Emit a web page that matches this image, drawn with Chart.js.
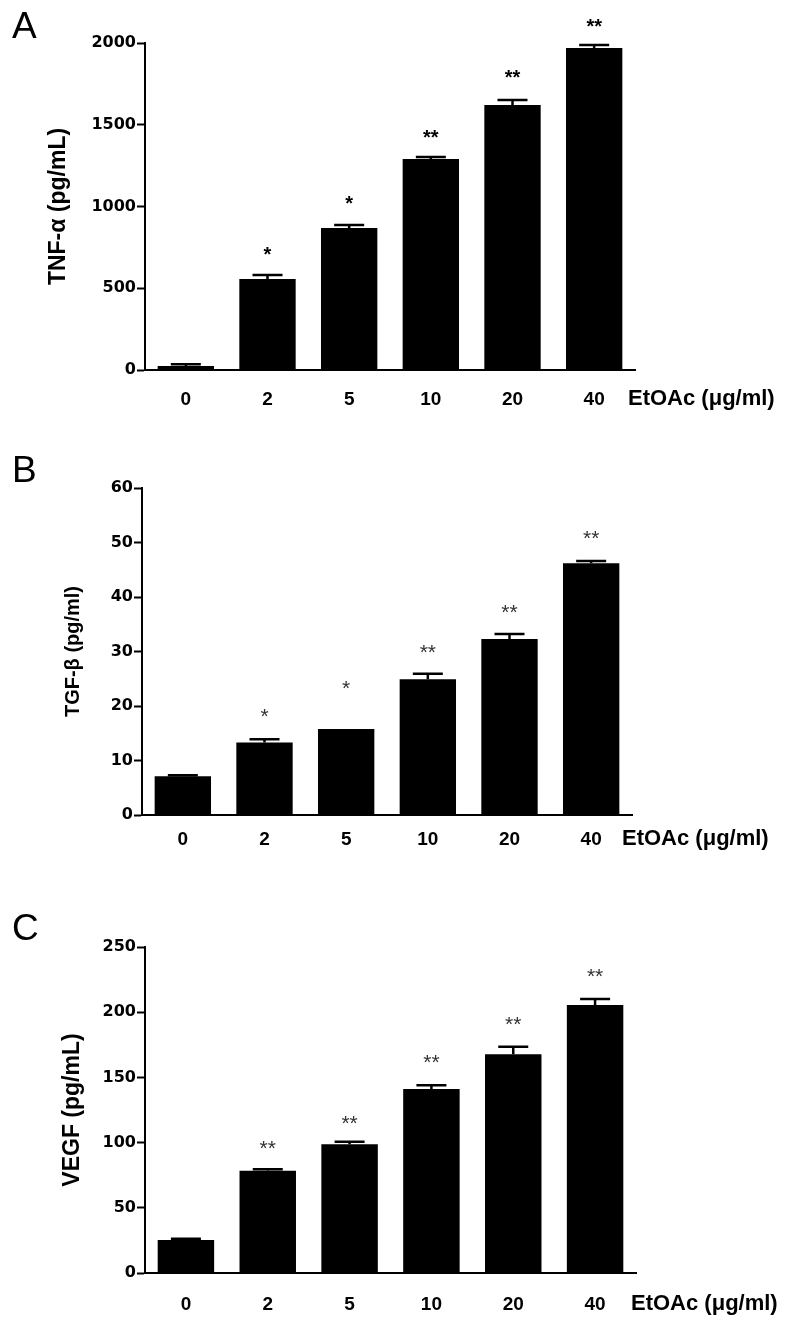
<!DOCTYPE html>
<html>
<head>
<meta charset="utf-8">
<script src="https://cdn.jsdelivr.net/npm/chart.js@4.4.1/dist/chart.umd.min.js"></script>
<style>
  body { margin: 0; background: #fff; }
  #wrap { position: relative; width: 790px; height: 1328px; }
  canvas { position: absolute; left: 0; }
</style>
</head>
<body>
<div id="wrap">
  <canvas id="panelA" width="790" height="440" style="top:0"></canvas>
  <canvas id="panelB" width="790" height="448" style="top:440px"></canvas>
  <canvas id="panelC" width="790" height="440" style="top:888px"></canvas>
</div>
<script>
const doses = ['0', '2', '5', '10', '20', '40']
const xTitle = 'EtOAc (μg/ml)'

// A: TNF-α
const tnfMean = [25, 556, 869, 1290, 1621, 1969]
const tnfErr = [10, 25, 18, 13, 30, 19]
const tnfStars = ['', '*', '*', '**', '**', '**']
const tnfStarAt = [null, 734, 1046, 1450, 1817, 2128]

// B: TGF-β
const tgfMean = [7.1, 13.3, 15.8, 24.9, 32.3, 46.2]
const tgfErr = [0.2, 0.6, 0, 1.0, 0.9, 0.4]
const tgfStars = ['', '*', '*', '**', '**', '**']
const tgfStarAt = [null, 19.1, 24.2, 30.8, 38.2, 51.7]

// C: VEGF
const vegfMean = [25.3, 78.5, 98.7, 141.1, 167.7, 205.5]
const vegfErr = [1.0, 1.0, 2.0, 2.8, 5.9, 4.6]
const vegfStars = ['', '**', '**', '**', '**', '**']
const vegfStarAt = [null, 99.7, 118.9, 165.6, 194.8, 231.6]

Chart.defaults.font.family = "'Liberation Sans', Arial, sans-serif"
Chart.defaults.color = '#000'

const makePanel = (id, p) => {
  const canvas = document.getElementById(id)
  const H = canvas.height

  const extras = {
    id: 'extras',
    afterDatasetsDraw(chart) {
      const { ctx, scales: { x, y } } = chart
      ctx.save()

      // error bars (upper half only)
      ctx.strokeStyle = '#000'
      ctx.lineWidth = 2.5
      p.err.forEach((e, i) => {
        if (!e) return
        const cx = x.getPixelForValue(i)
        const y0 = y.getPixelForValue(p.mean[i])
        const y1 = y.getPixelForValue(p.mean[i] + e)
        ctx.beginPath()
        ctx.moveTo(cx, y0)
        ctx.lineTo(cx, y1)
        ctx.moveTo(cx - 15, y1)
        ctx.lineTo(cx + 15, y1)
        ctx.stroke()
      })

      // significance marks
      ctx.fillStyle = p.starColor
      ctx.font = p.starFont
      ctx.textAlign = 'center'
      ctx.textBaseline = 'alphabetic'
      p.stars.forEach((s, i) => {
        if (!s) return
        ctx.fillText(s, x.getPixelForValue(i), y.getPixelForValue(p.starAt[i]) + p.starSize * 0.57)
      })

      // panel letter
      ctx.fillStyle = '#000'
      ctx.textAlign = 'left'
      ctx.font = "37px 'Liberation Sans', Arial, sans-serif"
      ctx.fillText(p.letter, 12, p.letterBase)

      // x axis title, on the tick label line
      ctx.font = "bold 22px 'Liberation Sans', Arial, sans-serif"
      ctx.textBaseline = 'middle'
      ctx.fillText(xTitle, p.xTitleX, p.xTitleY)
      ctx.restore()
    }
  }

  return new Chart(canvas, {
    type: 'bar',
    plugins: [extras],
    data: {
      labels: doses,
      datasets: [{
        data: p.mean,
        backgroundColor: '#000',
        borderWidth: 0,
        barPercentage: 0.69,
        categoryPercentage: 1
      }]
    },
    options: {
      responsive: false,
      animation: false,
      devicePixelRatio: 1,
      layout: { padding: { left: 0, right: 790 - p.right, top: p.top, bottom: 0 } },
      plugins: { legend: { display: false }, tooltip: { enabled: false } },
      scales: {
        x: {
          afterFit: (s) => { s.height = H - p.bottom },
          grid: { display: true, drawOnChartArea: false, drawTicks: false },
          border: { display: true, color: '#000', width: 2 },
          ticks: { padding: p.xPad, font: { size: 19, weight: 'bold' }, color: '#000' }
        },
        y: {
          min: 0,
          max: p.max,
          afterFit: (s) => { s.width = p.left },
          grid: { drawOnChartArea: false, drawTicks: true, tickLength: 8, tickWidth: 2, tickColor: '#000' },
          border: { display: true, color: '#000', width: 2 },
          ticks: {
            stepSize: p.step,
            padding: 1,
            callback: (v) => String(v),
            font: { family: "'DejaVu Sans', sans-serif", size: 16, weight: 'bold' },
            color: '#000'
          },
          title: {
            display: true,
            text: p.yTitle,
            font: { size: p.yTitleSize, weight: 'bold' },
            padding: { top: p.yTitlePad, bottom: 0 },
            color: '#000'
          }
        }
      }
    }
  })
}

makePanel('panelA', {
  letter: 'A', letterBase: 38,
  yTitle: 'TNF-α (pg/mL)', yTitleSize: 23, yTitlePad: 45,
  mean: tnfMean, err: tnfErr, stars: tnfStars, starAt: tnfStarAt,
  starColor: '#000', starFont: "bold 20px 'Liberation Sans', Arial, sans-serif", starSize: 20,
  max: 2000, step: 500,
  left: 145, right: 635, top: 43, bottom: 370,
  xPad: 18, xTitleX: 628, xTitleY: 399
})

makePanel('panelB', {
  letter: 'B', letterBase: 42,
  yTitle: 'TGF-β (pg/ml)', yTitleSize: 20, yTitlePad: 61,
  mean: tgfMean, err: tgfErr, stars: tgfStars, starAt: tgfStarAt,
  starColor: '#333', starFont: "21px 'Liberation Sans', Arial, sans-serif", starSize: 21,
  max: 60, step: 10,
  left: 142, right: 632, top: 48, bottom: 375,
  xPad: 13, xTitleX: 622, xTitleY: 399
})

makePanel('panelC', {
  letter: 'C', letterBase: 52,
  yTitle: 'VEGF (pg/mL)', yTitleSize: 23, yTitlePad: 59,
  mean: vegfMean, err: vegfErr, stars: vegfStars, starAt: vegfStarAt,
  starColor: '#333', starFont: "21px 'Liberation Sans', Arial, sans-serif", starSize: 21,
  max: 250, step: 50,
  left: 145, right: 636, top: 59, bottom: 385,
  xPad: 20, xTitleX: 631, xTitleY: 416
})
</script>
</body>
</html>
